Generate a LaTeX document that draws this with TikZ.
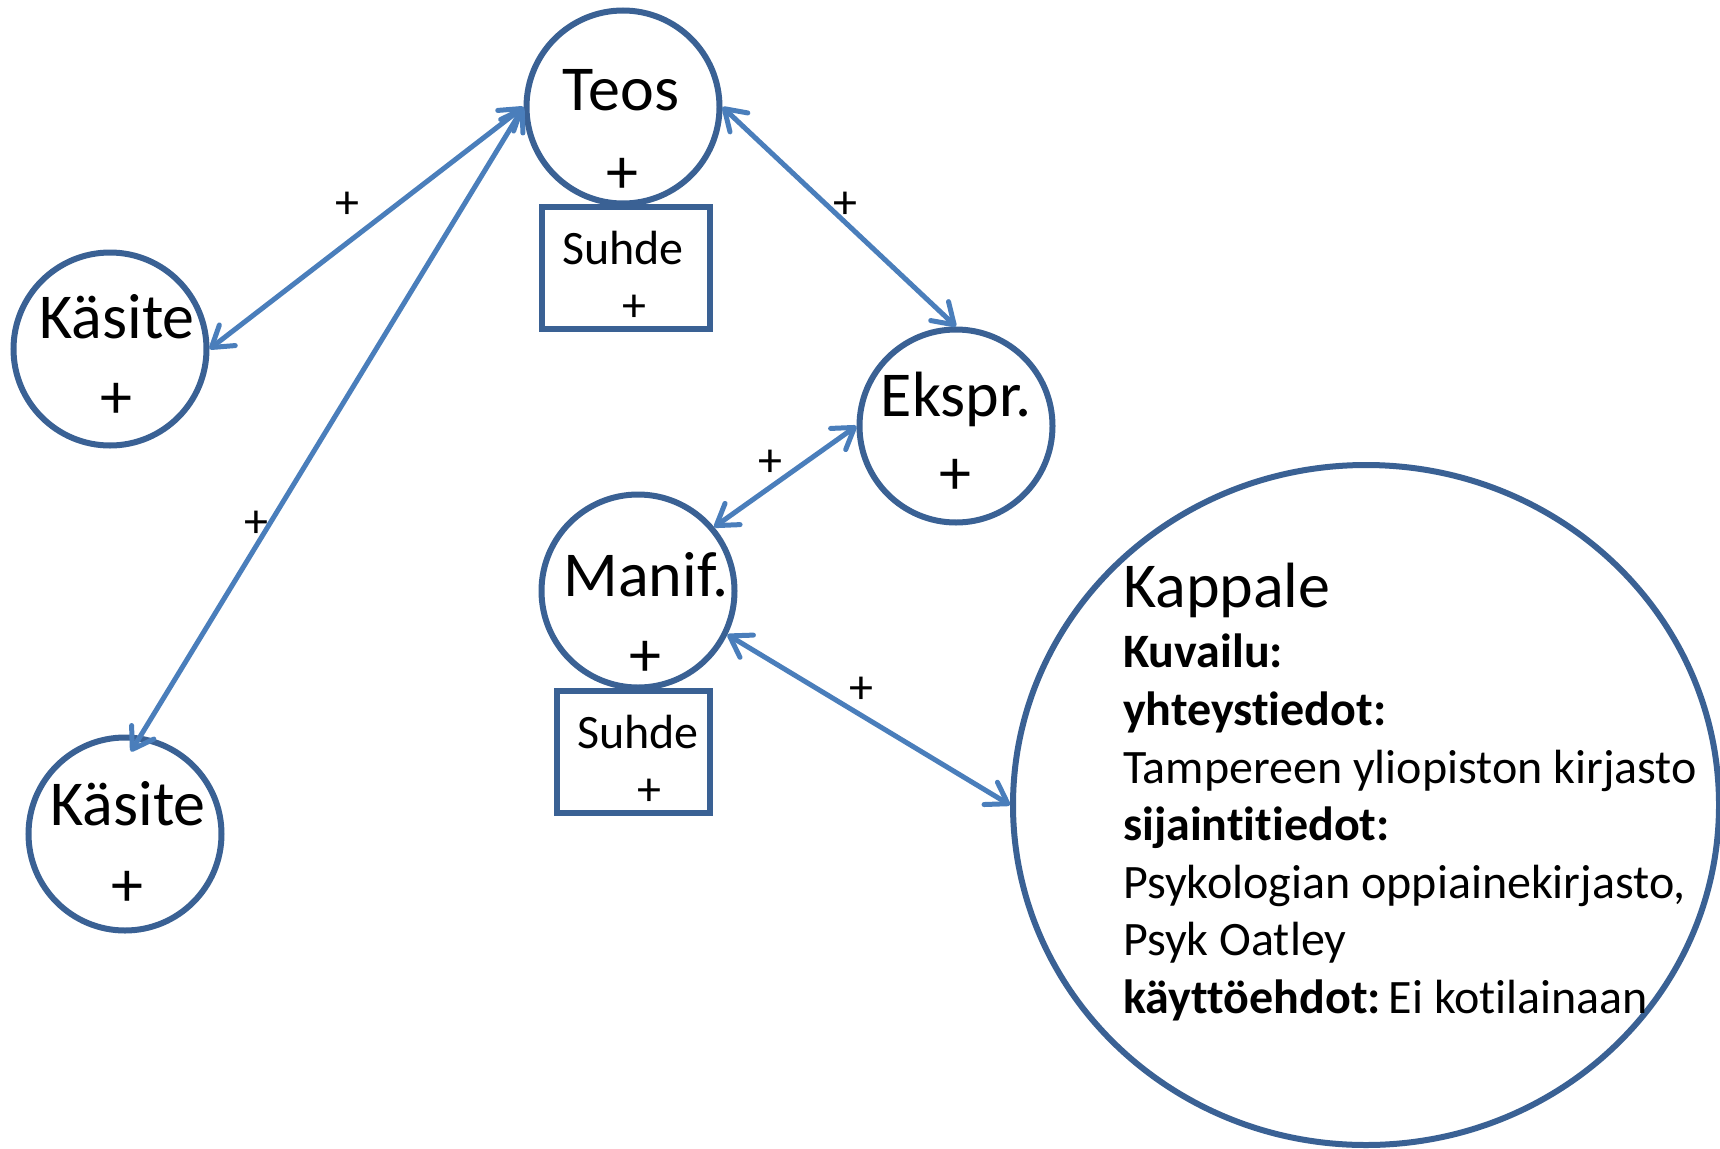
\documentclass[tikz,border=0pt]{standalone}
\usepackage{fontspec}
\setmainfont{Carlito}[Ligatures={NoCommon}]
\usetikzlibrary{arrows.meta,shapes.geometric}
\definecolor{shapeblue}{HTML}{3A6194}
\definecolor{arrowblue}{HTML}{4A7EBB}
\begin{document}
\begin{tikzpicture}[x=1pt,y=-1pt,
  ent/.style={circle,draw=shapeblue,line width=6pt,minimum size=193pt,inner sep=0pt},
  relbox/.style={rectangle,draw=shapeblue,line width=6pt,inner sep=0pt},
  big/.style={font=\fontsize{64}{76}\selectfont,anchor=base,inner sep=0pt},
  body/.style={font=\fontsize{48}{58}\selectfont,anchor=base west,inner sep=0pt},
  small/.style={font=\fontsize{48}{58}\selectfont,anchor=base,inner sep=0pt},
  link/.style={draw=arrowblue,line width=5pt,line cap=round,{Straight Barb[length=20pt,width=26pt,round]}-{Straight Barb[length=20pt,width=26pt,round]}}
]
\useasboundingbox (0,0) rectangle (1720,1148);
% entity circles
\node[ent] (teos) at (623,107) {};
\node[ent] (kas1) at (110,349) {};
\node[ent] (kas2) at (125,834) {};
\node[ent] (ekspr) at (956,426) {};
\node[ent] (manif) at (638,591) {};
\node[ellipse,draw=shapeblue,line width=6pt,minimum width=706pt,minimum height=680pt,inner sep=0pt] (kappale) at (1366,805) {};
% relation boxes
\node[relbox,minimum width=168pt,minimum height=122pt] (suhde1) at (626,268) {};
\node[relbox,minimum width=153pt,minimum height=122pt] (suhde2) at (633.5,752) {};
% texts in circles
\node[big] (teosT) at (621,110) {Teos};
\node[big] (teosP) at (622,193) {+};
\node[big] (kas1T) at (117,338) {Käsite};
\node[big] (kas1P) at (116,418) {+};
\node[big] (kas2T) at (128,825) {Käsite};
\node[big] (kas2P) at (127,906) {+};
\node[big] (eksprT) at (956,416) {Ekspr.};
\node[big] (eksprP) at (955,494) {+};
\node[big] (manifT) at (646,596) {Manif.};
\node[big] (manifP) at (645,676) {+};
% texts in boxes
\node[small] (suhde1T) at (623,264) {Suhde};
\node[small] (suhde1P) at (634,321) {+};
\node[small] (suhde2T) at (638,748) {Suhde};
\node[small] (suhde2P) at (649,805) {+};
% Kappale texts
\node[big,anchor=base west] (kapT) at (1123,607) {Kappale};
\node[body] (kap1) at (1123,667) {\bfseries Kuvailu:};
\node[body] (kap2) at (1123,725) {\bfseries yhteystiedot:};
\node[body] (kap3) at (1123,783) {Tampereen yliopiston kirjasto};
\node[body] (kap4) at (1123,840) {\bfseries sijaintitiedot:};
\node[body] (kap5) at (1123,898) {Psykologian oppiainekirjasto,};
\node[body] (kap6) at (1123,955) {Psyk Oatley};
\node[body] (kap7) at (1123,1013) {\textbf{käyttöehdot:}\,Ei kotilainaan};
% connectors
\draw[link] (teos.west) -- (kas1.east);
\draw[link] (teos.west) -- ([xshift=6pt,yshift=-17pt]kas2.north);
\draw[link] (teos.east) -- (ekspr.north);
\draw[link] (ekspr.west) -- (manif.40);
\draw[link] (manif.-26) -- (kappale.west);
% connector labels
\node[small] (l1) at (347,218) {+};
\node[small] (l2) at (256,537) {+};
\node[small] (l3) at (845,218) {+};
\node[small] (l4) at (770,476) {+};
\node[small] (l5) at (861,703) {+};
\end{tikzpicture}
\end{document}
